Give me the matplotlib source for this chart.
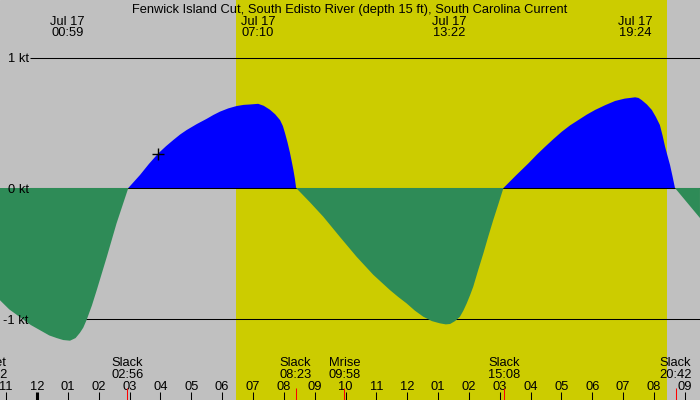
import matplotlib
matplotlib.use("Agg")
import matplotlib.pyplot as plt

plt.rcParams['font.family'] = ['Liberation Sans', 'DejaVu Sans']

# Current prediction (hours after midnight Jul 17, knots)
hours = [-1.20, -0.90, -0.55, -0.20, 0.10, 0.40, 0.64, 0.85, 1.07, 1.25, 1.39, 1.50, 1.61, 1.78,
         1.94, 2.10, 2.26, 2.42, 2.58, 2.77, 2.96,
         3.34, 3.63, 3.93, 4.18, 4.42, 4.64, 4.85, 5.18, 5.50, 5.72, 5.93, 6.20, 6.47, 6.70, 6.90,
         7.17, 7.35, 7.55, 7.72, 7.88, 7.97, 8.04, 8.12, 8.20, 8.26, 8.31, 8.36, 8.40,
         8.85, 9.28, 9.82, 10.36, 10.90, 11.44, 11.71, 11.98, 12.25, 12.52, 12.80, 13.06, 13.25,
         13.39, 13.55, 13.71, 13.82, 13.93, 14.04, 14.14, 14.30, 14.47, 14.63, 14.79, 14.96, 15.12,
         15.52, 15.93, 16.20, 16.47, 16.74, 17.01, 17.28, 17.55, 17.82, 18.09, 18.42, 18.74, 19.05,
         19.39, 19.50, 19.60, 19.77, 19.93, 20.06, 20.19, 20.28, 20.36, 20.44, 20.52, 20.60, 20.68,
         21.49]
knots = [-0.86, -0.93, -0.99, -1.05, -1.09, -1.13, -1.15, -1.165, -1.17, -1.15, -1.11, -1.07, -1.01, -0.90,
         -0.78, -0.655, -0.53, -0.40, -0.27, -0.135, 0.0,
         0.10, 0.185, 0.265, 0.32, 0.368, 0.41, 0.444, 0.49, 0.53, 0.56, 0.585, 0.61, 0.628, 0.637, 0.64,
         0.645, 0.63, 0.60, 0.565, 0.52, 0.475, 0.42, 0.35, 0.27, 0.20, 0.14, 0.07, 0.0,
         -0.11, -0.22, -0.375, -0.527, -0.665, -0.782, -0.835, -0.884, -0.94, -0.986, -1.02, -1.037, -1.045,
         -1.042, -1.02, -0.986, -0.94, -0.884, -0.82, -0.757, -0.63, -0.50, -0.37, -0.245, -0.12, 0.0,
         0.095, 0.189, 0.255, 0.316, 0.375, 0.431, 0.48, 0.521, 0.562, 0.598, 0.635, 0.667, 0.685,
         0.695, 0.69, 0.674, 0.64, 0.598, 0.545, 0.483, 0.40, 0.316, 0.245, 0.176, 0.09, 0.0,
         -0.23]

# max current events (top labels)
max_times = [0.983, 7.167, 13.367, 19.4]
max_labels = ["00:59", "07:10", "13:22", "19:24"]

# slack / moon events (bottom labels)
event_times = [-1.467, 2.933, 8.383, 9.967, 15.133, 20.7]
event_names = ["Mset", "Slack", "Slack", "Mrise", "Slack", "Slack"]
event_labels = ["22:32", "02:56", "08:23", "09:58", "15:08", "20:42"]

sunrise = 6.45
sunset = 20.43

hour_ticks = list(range(-1, 22))
hour_labels = ["11", "12", "01", "02", "03", "04", "05", "06", "07", "08", "09", "10",
               "11", "12", "01", "02", "03", "04", "05", "06", "07", "08", "09"]

kt_levels = [1, 0, -1]
kt_labels = ["1 kt", "0 kt", "-1 kt"]

# pixel layout: x = 37 + 30.85*t, y0 = 188, 130.5 px per knot
px_hour = 30.85
px_knot = 130.5
x0 = -37 / px_hour
x1 = (700 - 37) / px_hour
ytop = 188 / px_knot
ybot = -(400 - 188) / px_knot

fig = plt.figure(figsize=(7, 4), dpi=100)
ax = fig.add_axes([0, 0, 1, 1])
ax.set_xlim(x0, x1)
ax.set_ylim(ybot, ytop)
ax.axis("off")
ax.add_patch(plt.Rectangle((0, 0), 1, 1, transform=ax.transAxes, color="#c0c0c0", zorder=0))
ax.axvspan(sunrise, sunset, color="#cccc00", zorder=0.5, lw=0)

lw1 = 0.75
line_start = -7 / px_hour
ax.hlines([1, -1], line_start, x1, colors="black", lw=lw1, zorder=1)
ax.fill_between(hours, 0, knots, where=[k >= 0 for k in knots], interpolate=True,
                color="#0000ff", lw=0, zorder=1.5)
ax.hlines([0], line_start, x1, colors="black", lw=lw1, zorder=2)
ax.fill_between(hours, 0, knots, where=[k <= 0 for k in knots], interpolate=True,
                color="#2e8b57", lw=0, zorder=3)

fs = 9.3
shift = 2  # px, nudge text down
for lev, lab in zip(kt_levels, kt_labels):
    ax.text(-8.5 / px_hour, lev - shift / px_knot, lab, ha="right", va="center", fontsize=fs, zorder=5)

ax.plot([3.92], [0.26], marker="+", color="black", ms=8, mew=1, zorder=6)

tr = ax.get_xaxis_transform()
fig.text(0.5, 1 - (8 + shift) / 400,
         "Fenwick Island Cut, South Edisto River (depth 15 ft), South Carolina Current",
         ha="center", va="center", fontsize=fs)
for t, lab in zip(max_times, max_labels):
    ax.text(t, 1 - (20 + shift) / 400, "Jul 17", transform=tr, ha="center", va="center", fontsize=fs)
    ax.text(t, 1 - (31.5 + shift) / 400, lab, transform=tr, ha="center", va="center", fontsize=fs)

for t, name, lab in zip(event_times, event_names, event_labels):
    ax.text(t, 1 - (361.5 + shift) / 400, name, transform=tr, ha="center", va="center", fontsize=fs)
    ax.text(t, 1 - (373.5 + shift) / 400, lab, transform=tr, ha="center", va="center", fontsize=fs)
    ax.vlines(t, 0, 0.03, transform=tr, colors="red", lw=lw1, zorder=4)

for h, lab in zip(hour_ticks, hour_labels):
    ax.text(h, 1 - (385.5 + shift) / 400, lab, transform=tr, ha="center", va="center", fontsize=fs)
    ax.vlines(h, 0, 0.02, transform=tr, colors="black", lw=2.2 if h == 0 else lw1, zorder=4)

fig.savefig("out.png", dpi=100)
